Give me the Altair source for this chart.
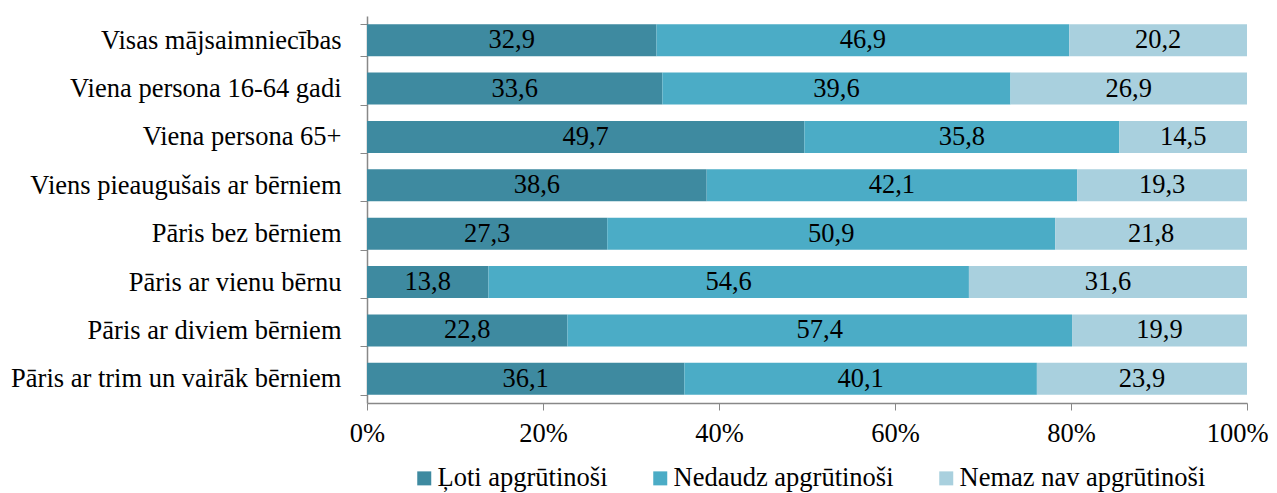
import altair as alt
import pandas as pd

categories = [
    "Visas mājsaimniecības",
    "Viena persona 16-64 gadi",
    "Viena persona 65+",
    "Viens pieaugušais ar bērniem",
    "Pāris bez bērniem",
    "Pāris ar vienu bērnu",
    "Pāris ar diviem bērniem",
    "Pāris ar trim un vairāk bērniem",
]
series_names = ["Ļoti apgrūtinoši", "Nedaudz apgrūtinoši", "Nemaz nav apgrūtinoši"]
s_loti = [32.9, 33.6, 49.7, 38.6, 27.3, 13.8, 22.8, 36.1]
s_nedaudz = [46.9, 39.6, 35.8, 42.1, 50.9, 54.6, 57.4, 40.1]
s_nemaz = [20.2, 26.9, 14.5, 19.3, 21.8, 31.6, 19.9, 23.9]
colors = ["#3E8AA0", "#4BACC6", "#A9D0DE"]

rows = []
for i, c in enumerate(categories):
    for k, (name, vals) in enumerate(zip(series_names, [s_loti, s_nedaudz, s_nemaz])):
        rows.append({"cat": c, "series": name, "order": k, "value": vals[i]})
df = pd.DataFrame(rows)

FONT = "Liberation Serif, Times New Roman, serif"
FS = 26.5

base = (
    alt.Chart(df)
    .transform_joinaggregate(total="sum(value)", groupby=["cat"])
    .transform_window(
        cum="sum(value)", groupby=["cat"], sort=[alt.SortField("order")], frame=[None, 0]
    )
    .transform_calculate(
        start="(datum.cum - datum.value) / datum.total",
        end="datum.cum / datum.total",
        mid="(datum.cum - datum.value / 2) / datum.total",
        label="replace(format(datum.value, '.1f'), '.', ',')",
    )
)

y_enc = alt.Y(
    "cat:N",
    sort=categories,
    title=None,
    scale=alt.Scale(paddingInner=0.34, paddingOuter=0.17),
    axis=alt.Axis(
        tickBand="extent",
        tickSize=7,
        tickColor="#888888",
        domainColor="#888888",
        domainWidth=1.5,
        labelFont=FONT,
        labelFontSize=FS,
        labelColor="#000000",
        labelPadding=19,
        labelLimit=500,
    ),
)

bars = base.mark_bar().encode(
    y=y_enc,
    x=alt.X(
        "start:Q",
        scale=alt.Scale(domain=[0, 1], nice=False),
        title=None,
        axis=alt.Axis(
            format="%",
            values=[0, 0.2, 0.4, 0.6, 0.8, 1.0],
            grid=False,
            labelFlush=False,
            labelAlign={"condition": {"test": "datum.value >= 1", "value": "right"}, "value": "center"},
            labelOffset={"condition": {"test": "datum.value >= 1", "value": 21}, "value": 0},
            tickSize=7,
            tickColor="#888888",
            domainColor="#888888",
            domainWidth=1.5,
            labelFont=FONT,
            labelFontSize=FS,
            labelColor="#000000",
            labelPadding=10,
        ),
    ),
    x2="end:Q",
    color=alt.Color(
        "series:N",
        sort=series_names,
        scale=alt.Scale(domain=series_names, range=colors),
        title=None,
        legend=alt.Legend(
            orient="none",
            direction="horizontal",
            legendX=44,
            legendY=449,
            symbolType="square",
            symbolSize=196,
            symbolStrokeWidth=0,
            labelFont=FONT,
            labelFontSize=FS,
            labelColor="#000000",
            labelOffset=0,
            columnPadding=39,
            labelLimit=500,
        ),
    ),
)

texts = base.mark_text(font=FONT, fontSize=FS, color="#000000").encode(
    y=alt.Y("cat:N", sort=categories),
    x=alt.X("mid:Q"),
    text="label:N",
)

chart = (
    alt.layer(bars, texts)
    .properties(
        width=880,
        height=387,
        padding={"left": 359, "top": 8, "right": 22, "bottom": 90},
        autosize="none",
    )
    .configure_view(stroke=None)
)

chart.save("out.html", embed_options={"renderer": "svg", "actions": False})
